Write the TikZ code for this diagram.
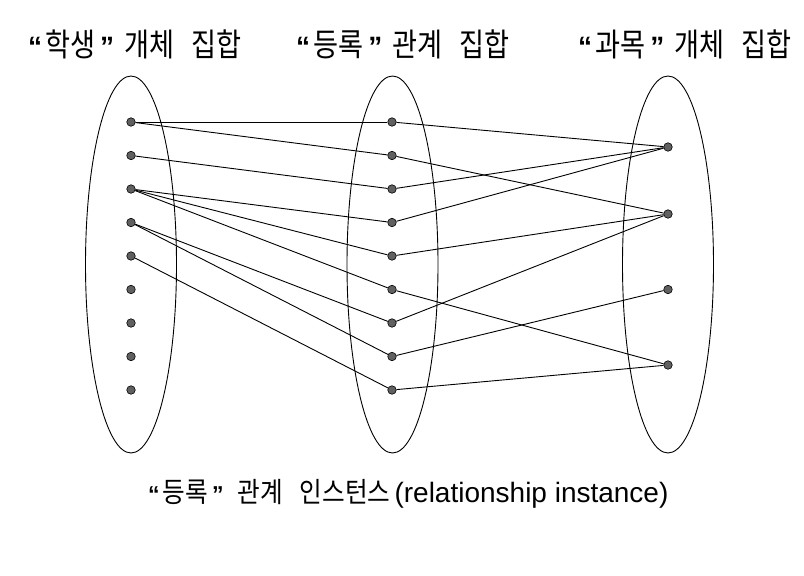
\documentclass[tikz,border=0pt]{standalone}
\usepackage{fontspec}
\setmainfont{Liberation Sans}
\newfontfamily\krtop[FakeStretch=0.85]{Noto Sans CJK KR}
\newfontfamily\krcap[FakeStretch=0.88]{Noto Sans CJK KR}
\usetikzlibrary{shapes.geometric}
\definecolor{dotgray}{HTML}{606060}
\newcommand\tqo{{\rmfamily\bfseries\fontsize{28}{30}\selectfont “}}
\newcommand\tqc{{\rmfamily\bfseries\fontsize{28}{30}\selectfont ”}}
\newcommand\cqo{{\rmfamily\bfseries\fontsize{23}{25}\selectfont “}}
\newcommand\cqc{{\rmfamily\bfseries\fontsize{23}{25}\selectfont ”}}
\tikzset{
  dot/.style={circle, draw=black, fill=dotgray, line width=0.6pt, inner sep=0pt, minimum size=8.5pt},
  set/.style={ellipse, draw=black, line width=0.9pt, minimum width=91pt, minimum height=377pt, inner sep=0pt},
  link/.style={draw=black, line width=0.9pt},
  title/.style={font=\krtop\fontsize{32}{34}\selectfont, inner sep=0pt, anchor=base west},
  caption/.style={font=\fontsize{28}{30}\selectfont, inner sep=0pt, anchor=base west}
}
\begin{document}
\begin{tikzpicture}[x=1pt,y=-1pt]
\useasboundingbox (0,0) rectangle (804,576);
% sets
\node[set] (sA) at (131,264.5) {};
\node[set] (sB) at (392.5,264.5) {};
\node[set] (sC) at (668,264.5) {};
% titles
\node[title] (tA) at (28,56) {\tqo\hspace{3pt}학생\hspace{5pt}\tqc\hspace{10pt}개체\hspace{17pt}집합};
\node[title] (tB) at (296,56) {\tqo\hspace{3pt}등록\hspace{5pt}\tqc\hspace{10pt}관계\hspace{17pt}집합};
\node[title] (tC) at (578,56) {\tqo\hspace{3pt}과목\hspace{5pt}\tqc\hspace{10pt}개체\hspace{17pt}집합};
\node[caption] (cap) at (148,502) {{\krcap\fontsize{28}{30}\selectfont \cqo\hspace{3pt}등록\hspace{4pt}\cqc\hspace{14pt}관계\hspace{17pt}인스턴스}\hspace{4pt}(relationship instance)};
% dots
\foreach \i/\y in {1/122,2/155.5,3/189,4/222.5,5/256,6/289.5,7/323,8/356.5,9/390}{
  \node[dot] (l\i) at (131,\y) {};
  \node[dot] (m\i) at (392,\y) {};
}
\node[dot] (r1) at (668,147) {};
\node[dot] (r2) at (668,214) {};
\node[dot] (r3) at (668,289.5) {};
\node[dot] (r4) at (668,365) {};
% left -> middle
\draw[link] (l1) -- (m1);
\draw[link] (l1) -- (m2);
\draw[link] (l2) -- (m3);
\draw[link] (l3) -- (m4);
\draw[link] (l3) -- (m5);
\draw[link] (l3) -- (m6);
\draw[link] (l4) -- (m7);
\draw[link] (l4) -- (m8);
\draw[link] (l5) -- (m9);
% middle -> right
\draw[link] (m1) -- (r1);
\draw[link] (m2) -- (r2);
\draw[link] (m3) -- (r1);
\draw[link] (m4) -- (r1);
\draw[link] (m5) -- (r2);
\draw[link] (m6) -- (r4);
\draw[link] (m7) -- (r2);
\draw[link] (m8) -- (r3);
\draw[link] (m9) -- (r4);
\end{tikzpicture}
\end{document}
